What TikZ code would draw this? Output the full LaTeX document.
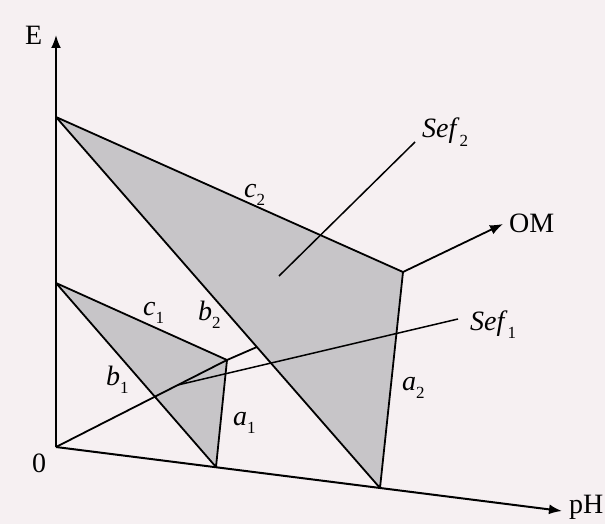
\documentclass[tikz,border=0pt]{standalone}
\usepackage{fontspec}
\setmainfont{Liberation Serif}
\usepackage{tikz}
\usetikzlibrary{arrows.meta,calc}
\definecolor{pagebg}{RGB}{246,240,242}
\definecolor{regiongray}{RGB}{199,197,200}
\newcommand{\sublbl}[2]{\textit{#1}\raisebox{-0.3em}{\fontsize{17}{17}\selectfont #2}}
\tikzset{>={Latex[length=13pt,width=10pt]}}

\begin{document}
\begin{tikzpicture}[x=1pt, y=-1pt, every node/.style={font=\fontsize{28}{32}\selectfont, inner sep=0pt, anchor=base west},
	axis/.style={line width=2pt},
	edge/.style={line width=1.8pt, line join=round},
	sefline/.style={line width=1.5pt}]
	% page
	\fill[pagebg] (0,0) rectangle (605,524);
	\useasboundingbox (0,0) rectangle (605,524);
	% corners of the regions
	\coordinate (O) at (56,447);
	\coordinate (A1) at (56,283);
	\coordinate (A2) at (56,117);
	\coordinate (P1) at (227,360);
	\coordinate (P2) at (403,272);
	\coordinate (Q1) at (216,467);
	\coordinate (Q2) at (380,488);
	\coordinate (Etip) at (56,35);
	\coordinate (pHtip) at (562,511);
	\coordinate (OMtip) at (503,224);
	\coordinate (R) at ($(A2)!0.62!(Q2)$);
	\coordinate (S1) at ($(O)!0.713!(P1)$);
	\coordinate (S1end) at (458,319);
	\coordinate (S2) at (279,276);
	\coordinate (S2end) at (415,142);
	% shaded regions
	\fill[regiongray] (A2) -- (P2) -- (Q2) -- cycle;
	\fill[regiongray] (A1) -- (P1) -- (Q1) -- cycle;
	% region borders
	\draw[edge] (A2) -- (P2) -- (Q2) -- cycle;
	\draw[edge] (A1) -- (P1) -- (Q1) -- cycle;
	% path to OM
	\draw[edge] (O) -- (P1) -- (R);
	\draw[edge,->] (P2) -- (OMtip);
	% Sef lines
	\draw[sefline] (S1) -- (S1end);
	\draw[sefline] (S2) -- (S2end);
	% axes
	\draw[axis,->] (O) -- (Etip);
	\draw[axis,->] (O) -- (pHtip);
	% labels
	\node (Elabel) at (25,45) {E};
	\node (Olabel) at (32,472) {0};
	\node (pHlabel) at (569,513) {pH};
	\node (OMlabel) at (509,232) {OM};
	\node (sef2) at (422,138) {\sublbl{Sef}{2}};
	\node (sef1) at (470,330) {\sublbl{Sef}{1}};
	\node (c2) at (244,197) {\sublbl{c}{2}};
	\node (c1) at (143,315) {\sublbl{c}{1}};
	\node (b2) at (198,320) {\sublbl{b}{2}};
	\node (b1) at (106,385) {\sublbl{b}{1}};
	\node (a1) at (233,425) {\sublbl{a}{1}};
	\node (a2) at (402,390) {\sublbl{a}{2}};
\end{tikzpicture}
\end{document}
